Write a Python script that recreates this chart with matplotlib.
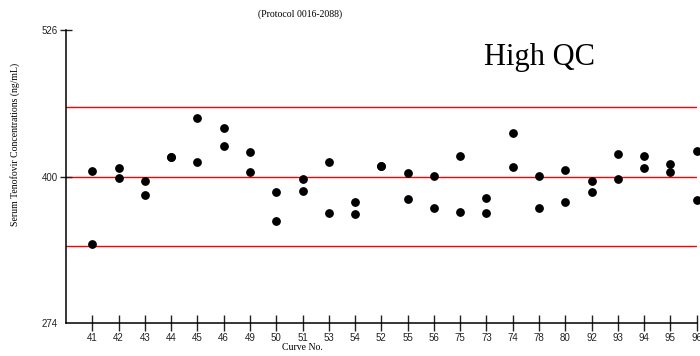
import matplotlib.pyplot as plt

curves = ['41', '42', '43', '44', '45', '46', '49', '50', '51', '53', '54', '52',
          '55', '56', '75', '73', '74', '78', '80', '92', '93', '94', '95', '96']

# two QC results per curve (ng/mL)
qc_a = [405.2, 407.1, 396.0, 416.5, 450.0, 442.0, 420.9, 386.8, 398.3, 412.9, 378.0, 409.1,
        403.0, 400.3, 418.0, 382.0, 437.2, 400.9, 406.0, 396.0, 419.2, 418.0, 411.2, 422.0]
qc_b = [341.8, 399.1, 384.0, 417.0, 412.9, 426.0, 404.0, 361.9, 388.0, 369.0, 368.0, 409.1,
        380.8, 373.0, 370.0, 368.7, 408.3, 373.0, 378.0, 386.8, 398.0, 407.4, 404.0, 380.0]

nominal = 400
limits = [340, 400, 460]
yticks = [274, 400, 526]

fig = plt.figure(figsize=(7, 3.56), dpi=100)
ax = fig.add_axes([66 / 700, 32.7 / 356, 630.7 / 700, 293.3 / 356])

x = list(range(1, len(curves) + 1))
for lim in limits:
    ax.axhline(lim, color='red', lw=1.0, zorder=1)
ax.scatter(x, qc_a, s=28, color='black', zorder=3, clip_on=False)
ax.scatter(x, qc_b, s=28, color='black', zorder=3, clip_on=False)

ax.set_xlim(0, len(curves))
ax.set_ylim(274, 526)
ax.set_xticks(x)
ax.set_xticklabels(curves)
ax.set_yticks(yticks)
ax.set_yticklabels([str(t) for t in yticks])

for side in ['top', 'right']:
    ax.spines[side].set_visible(False)
for side in ['left', 'bottom']:
    ax.spines[side].set_linewidth(1.1)

ax.tick_params(axis='x', direction='inout', length=11, width=1.0, pad=1.5,
               labelsize=7, labelfontfamily='Liberation Sans', colors='#222222')
ax.tick_params(axis='y', direction='inout', length=8.6, width=1.0, pad=1.5,
               labelsize=7, labelfontfamily='Liberation Sans', colors='#222222')
ax.yaxis.get_major_ticks()[0].tick1line.set_visible(False)
ax.yaxis.get_major_ticks()[0].tick2line.set_visible(False)

fig.text(15 / 700, (356 - 144) / 356, 'Serum Tenofovir Concentrations (ng/mL)',
         rotation=90, ha='center', va='center', fontsize=7, family='Liberation Serif')
fig.text(302 / 700, 1 - 348 / 356, 'Curve No.', ha='center', va='center',
         fontsize=7, family='Liberation Serif')
fig.text(300 / 700, 1 - 14 / 356, '(Protocol 0016-2088)', ha='center', va='center',
         fontsize=7, family='Liberation Serif')
fig.text(540 / 700, 1 - 57 / 356, 'High QC', ha='center', va='center',
         fontsize=22, family='Liberation Serif')

fig.savefig('out.png', dpi=100)
